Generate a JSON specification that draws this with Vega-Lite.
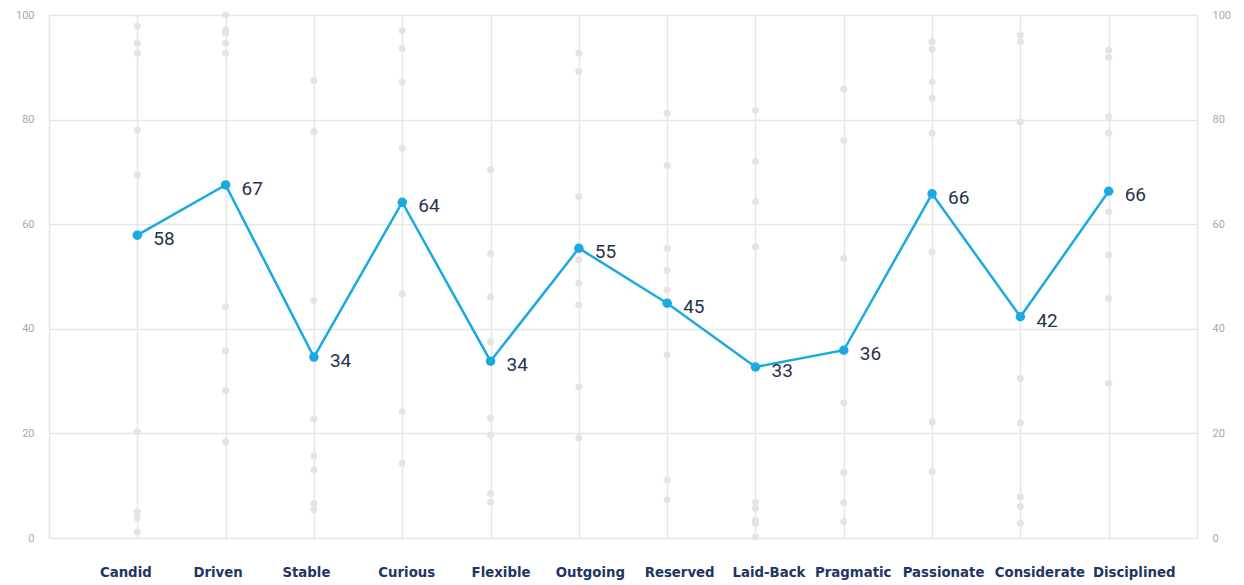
{
  "$schema": "https://vega.github.io/schema/vega-lite/v6.json",
  "width": 1148,
  "height": 523,
  "autosize": "none",
  "padding": {"left": 49, "top": 15, "right": 47, "bottom": 47},
  "background": "white",
  "config": {
    "view": {"stroke": null},
    "font": "Roboto",
    "axis": {"gridColor": "#e6e6e6", "gridWidth": 1.5, "domain": false, "ticks": false}
  },
  "datasets": {
    "dots": [
      {"trait": "Candid", "v": 97.9}, {"trait": "Candid", "v": 94.6}, {"trait": "Candid", "v": 92.7}, {"trait": "Candid", "v": 78}, {"trait": "Candid", "v": 69.4}, {"trait": "Candid", "v": 20.3}, {"trait": "Candid", "v": 5.0}, {"trait": "Candid", "v": 3.8}, {"trait": "Candid", "v": 1.2},
      {"trait": "Driven", "v": 100}, {"trait": "Driven", "v": 97.1}, {"trait": "Driven", "v": 96.5}, {"trait": "Driven", "v": 94.6}, {"trait": "Driven", "v": 92.7}, {"trait": "Driven", "v": 44.2}, {"trait": "Driven", "v": 35.8}, {"trait": "Driven", "v": 28.2}, {"trait": "Driven", "v": 18.4},
      {"trait": "Stable", "v": 87.5}, {"trait": "Stable", "v": 77.7}, {"trait": "Stable", "v": 45.4}, {"trait": "Stable", "v": 22.8}, {"trait": "Stable", "v": 15.7}, {"trait": "Stable", "v": 13}, {"trait": "Stable", "v": 6.6}, {"trait": "Stable", "v": 5.4},
      {"trait": "Curious", "v": 97}, {"trait": "Curious", "v": 93.6}, {"trait": "Curious", "v": 87.2}, {"trait": "Curious", "v": 74.5}, {"trait": "Curious", "v": 46.7}, {"trait": "Curious", "v": 24.2}, {"trait": "Curious", "v": 14.3},
      {"trait": "Flexible", "v": 70.4}, {"trait": "Flexible", "v": 54.4}, {"trait": "Flexible", "v": 46.1}, {"trait": "Flexible", "v": 37.5}, {"trait": "Flexible", "v": 22.9}, {"trait": "Flexible", "v": 19.7}, {"trait": "Flexible", "v": 8.5}, {"trait": "Flexible", "v": 6.9},
      {"trait": "Outgoing", "v": 92.7}, {"trait": "Outgoing", "v": 89.2}, {"trait": "Outgoing", "v": 65.3}, {"trait": "Outgoing", "v": 53.2}, {"trait": "Outgoing", "v": 48.7}, {"trait": "Outgoing", "v": 44.6}, {"trait": "Outgoing", "v": 28.9}, {"trait": "Outgoing", "v": 19.1},
      {"trait": "Reserved", "v": 81.2}, {"trait": "Reserved", "v": 71.2}, {"trait": "Reserved", "v": 55.4}, {"trait": "Reserved", "v": 51.2}, {"trait": "Reserved", "v": 47.4}, {"trait": "Reserved", "v": 35}, {"trait": "Reserved", "v": 11.1}, {"trait": "Reserved", "v": 7.3},
      {"trait": "Laid-Back", "v": 81.8}, {"trait": "Laid-Back", "v": 72}, {"trait": "Laid-Back", "v": 64.3}, {"trait": "Laid-Back", "v": 55.7}, {"trait": "Laid-Back", "v": 6.9}, {"trait": "Laid-Back", "v": 5.7}, {"trait": "Laid-Back", "v": 3.4}, {"trait": "Laid-Back", "v": 2.8}, {"trait": "Laid-Back", "v": 0.2},
      {"trait": "Pragmatic", "v": 85.8}, {"trait": "Pragmatic", "v": 76}, {"trait": "Pragmatic", "v": 53.5}, {"trait": "Pragmatic", "v": 25.8}, {"trait": "Pragmatic", "v": 12.5}, {"trait": "Pragmatic", "v": 6.8}, {"trait": "Pragmatic", "v": 3.1},
      {"trait": "Passionate", "v": 94.9}, {"trait": "Passionate", "v": 93.4}, {"trait": "Passionate", "v": 87.2}, {"trait": "Passionate", "v": 84.1}, {"trait": "Passionate", "v": 77.4}, {"trait": "Passionate", "v": 54.7}, {"trait": "Passionate", "v": 22.2}, {"trait": "Passionate", "v": 12.7},
      {"trait": "Considerate", "v": 96.2}, {"trait": "Considerate", "v": 94.9}, {"trait": "Considerate", "v": 79.6}, {"trait": "Considerate", "v": 30.5}, {"trait": "Considerate", "v": 22}, {"trait": "Considerate", "v": 7.9}, {"trait": "Considerate", "v": 6}, {"trait": "Considerate", "v": 2.8},
      {"trait": "Disciplined", "v": 93.3}, {"trait": "Disciplined", "v": 91.9}, {"trait": "Disciplined", "v": 80.6}, {"trait": "Disciplined", "v": 77.4}, {"trait": "Disciplined", "v": 62.4}, {"trait": "Disciplined", "v": 54.1}, {"trait": "Disciplined", "v": 45.8}, {"trait": "Disciplined", "v": 29.6}
    ],
    "scores": [
      {"trait": "Candid", "score": 57.9, "label": "58"},
      {"trait": "Driven", "score": 67.5, "label": "67"},
      {"trait": "Stable", "score": 34.6, "label": "34"},
      {"trait": "Curious", "score": 64.2, "label": "64"},
      {"trait": "Flexible", "score": 33.8, "label": "34"},
      {"trait": "Outgoing", "score": 55.4, "label": "55"},
      {"trait": "Reserved", "score": 44.9, "label": "45"},
      {"trait": "Laid-Back", "score": 32.7, "label": "33"},
      {"trait": "Pragmatic", "score": 35.9, "label": "36"},
      {"trait": "Passionate", "score": 65.8, "label": "66"},
      {"trait": "Considerate", "score": 42.3, "label": "42"},
      {"trait": "Disciplined", "score": 66.3, "label": "66"}
    ]
  },
  "layer": [
    {
      "data": {"name": "dots"},
      "mark": {"type": "point", "filled": true, "size": 50, "color": "#e4e4e4", "opacity": 1},
      "encoding": {
        "x": {
          "field": "trait", "type": "ordinal", "sort": null,
          "scale": {"type": "point", "padding": 1},
          "axis": {
            "title": null, "labelAngle": 0, "labelFont": "DejaVu Sans", "labelFontWeight": "bold",
            "labelFontSize": 13.3, "labelColor": "#1f3563", "labelPadding": 27,
            "labelOffset": {"expr": "[-12,-8,-8,4,10,11,12,13,9,11,19,25][indexof(['Candid','Driven','Stable','Curious','Flexible','Outgoing','Reserved','Laid-Back','Pragmatic','Passionate','Considerate','Disciplined'], datum.value)]"},
            "grid": true
          }
        },
        "y": {
          "field": "v", "type": "quantitative",
          "scale": {"domain": [0, 100], "nice": false},
          "axis": {"title": null, "orient": "left", "values": [0, 20, 40, 60, 80, 100], "labelFontSize": 11, "labelColor": "#a8a8a8", "labelPadding": 15, "domain": true, "domainColor": "#e6e6e6", "domainWidth": 1.5, "grid": true}
        }
      }
    },
    {
      "data": {"name": "scores"},
      "mark": {"type": "line", "color": "#1ba9e1", "strokeWidth": 2.5, "point": {"filled": true, "size": 90, "color": "#1ba9e1"}},
      "encoding": {
        "x": {"field": "trait", "type": "ordinal", "sort": null},
        "y": {
          "field": "score", "type": "quantitative",
          "axis": {"title": null, "orient": "right", "values": [0, 20, 40, 60, 80, 100], "labelFontSize": 11, "labelColor": "#a8a8a8", "labelPadding": 15, "domain": true, "domainColor": "#e6e6e6", "domainWidth": 1.5, "grid": false}
        }
      }
    },
    {
      "data": {"name": "scores"},
      "mark": {"type": "text", "align": "left", "baseline": "middle", "dx": 16, "dy": 4, "fontSize": 19, "font": "Roboto", "color": "#28324f"},
      "encoding": {
        "x": {"field": "trait", "type": "ordinal", "sort": null},
        "y": {"field": "score", "type": "quantitative", "axis": null},
        "text": {"field": "label"}
      }
    }
  ],
  "resolve": {"axis": {"y": "independent"}}
}
